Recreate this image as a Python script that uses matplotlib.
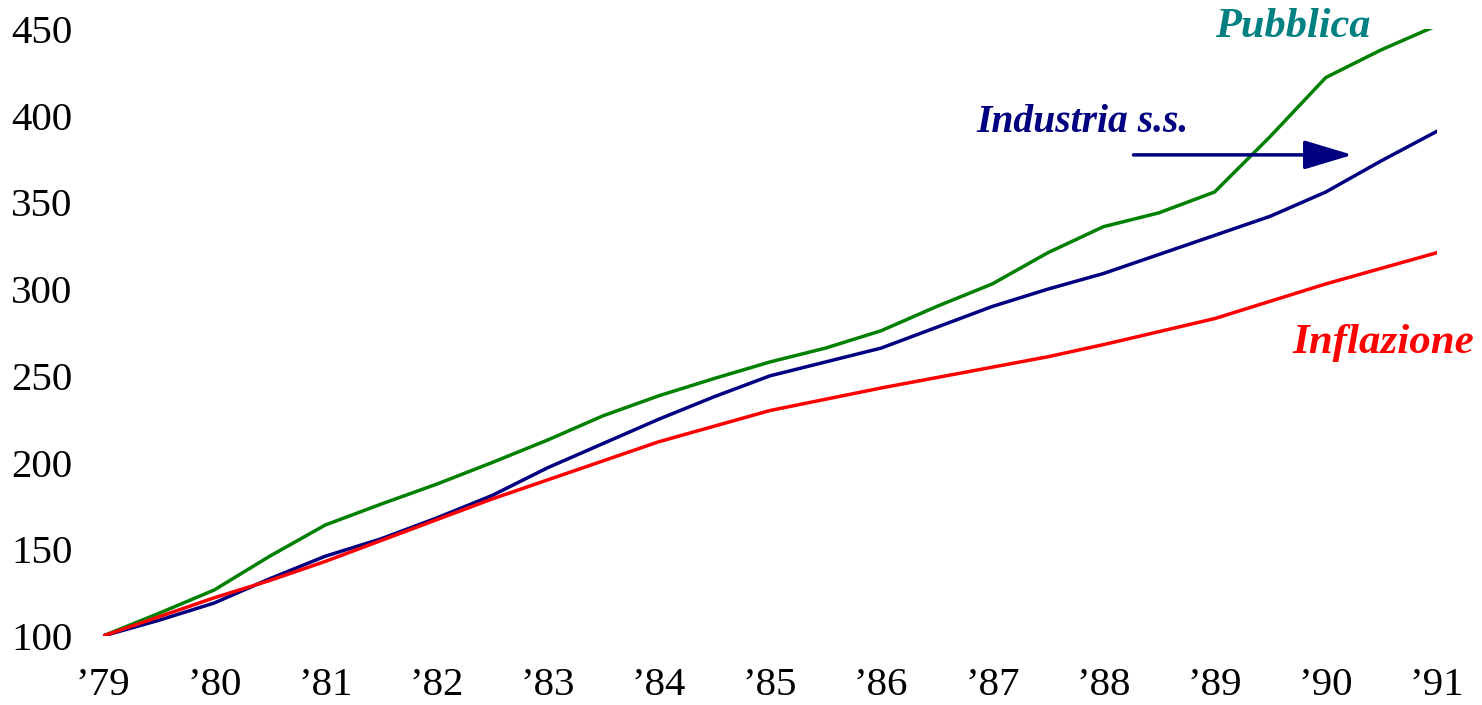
import numpy as np
import matplotlib.pyplot as plt

# semiannual points, 1979 = 100
years = np.arange(1979, 1991.01, 0.5)
pubblica = [100, 113, 126.5, 146, 164, 176, 187.5, 200, 213, 227, 238.5, 248.5, 258,
            266, 276, 290, 303, 321, 336, 344, 356, 388, 422, 438, 452]
industria = [100, 109, 119, 133, 146, 156, 168, 181, 197, 211, 225, 238, 250,
             258, 266, 278, 290, 300, 309, 320, 331, 342, 356, 374, 391]
inflazione = [100, 111, 122, 132, 143, 155, 167, 179, 190, 201, 212, 221, 230,
              236.5, 243, 249, 255, 261, 268, 275.5, 283, 293, 303, 312, 321]
xticks = list(range(1979, 1992))
xlabels = ["\u2019" + str(y)[2:] for y in xticks]
yticks = [100, 150, 200, 250, 300, 350, 400, 450]

plt.rcParams['font.family'] = ['Liberation Serif', 'DejaVu Serif']

fig = plt.figure(figsize=(14.82, 7.05), dpi=100)
ax = fig.add_axes([0.0695, 0.0979, 0.9001, 0.861])

ax.plot(years, pubblica, color='#008000', lw=2.5)
ax.plot(years, industria, color='#000080', lw=2.5)
ax.plot(years, inflazione, color='#ff0000', lw=2.5)

ax.set_xlim(1979, 1991)
ax.set_ylim(100, 450)
ax.set_xticks(xticks)
ax.set_xticklabels(xlabels)
ax.set_yticks(yticks)
ax.tick_params(axis='both', length=0, labelsize=29.5)
ax.tick_params(axis='x', pad=22)
ax.tick_params(axis='y', pad=22)
for s in ax.spines.values():
    s.set_visible(False)

lab = dict(fontweight='bold', fontstyle='italic', clip_on=False)
ax.text(1989.0, 451, 'Pubblica', color='#008080', ha='left', va='center',
        fontsize=30.5, **lab)
ax.text(1986.86, 396, 'Industria s.s.', color='#000080', ha='left', va='center',
        fontsize=28.5, **lab)
ax.text(1989.7, 269, 'Inflazione', color='#ff0000', ha='left', va='center',
        fontsize=31, **lab)

ax.annotate('', xy=(1990.24, 377.4), xytext=(1988.27, 377.4),
            arrowprops=dict(arrowstyle='-|>,head_length=3.0,head_width=0.9',
                            color='#000080', lw=2.5, shrinkA=0, shrinkB=0),
            annotation_clip=False)

fig.savefig('out.png', dpi=100)
